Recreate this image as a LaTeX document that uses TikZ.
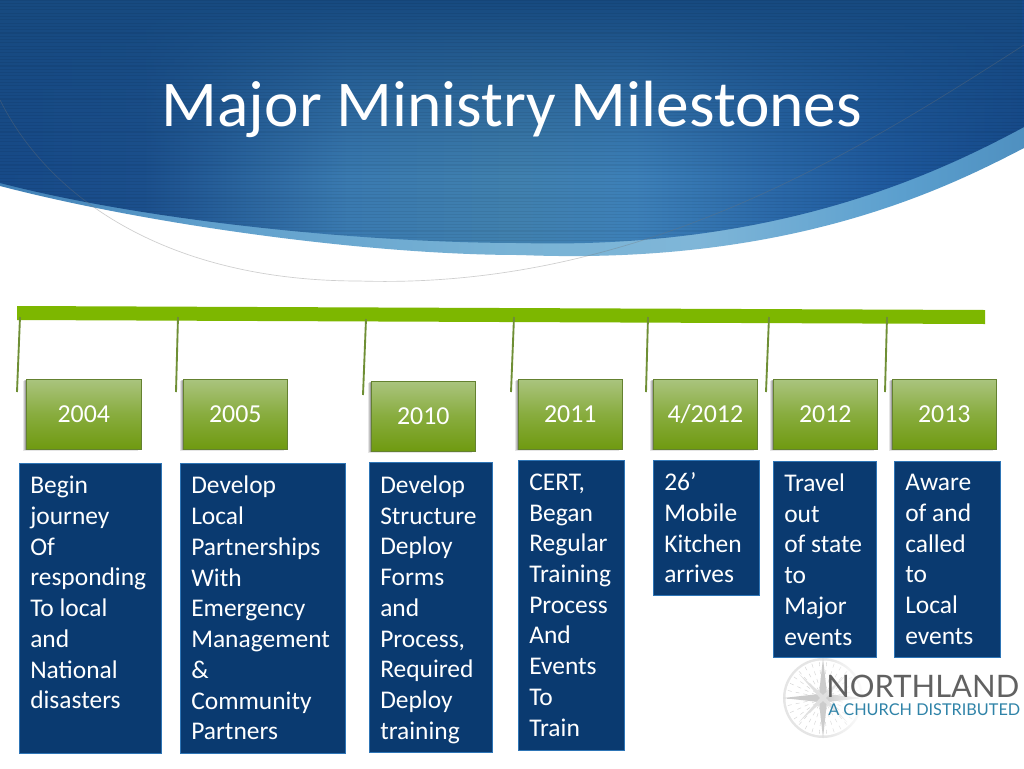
\documentclass[tikz,border=0pt]{standalone}
\usepackage{fontspec}
\setmainfont{Carlito}
\newfontfamily\logofont{Lato}
\usetikzlibrary{fadings,shadows}
\definecolor{boxblue}{HTML}{0A3A70}
\definecolor{boxedge}{HTML}{2E75B6}
\definecolor{barG}{HTML}{7DB700}
\definecolor{tickG}{HTML}{6F8F35}
\definecolor{topdark}{HTML}{174A80}
\definecolor{logoblue}{HTML}{2F83A8}
\definecolor{ma}{HTML}{174A88}\definecolor{mb}{HTML}{1B4F8C}\definecolor{mc}{HTML}{3A7AB0}
\definecolor{md}{HTML}{4080AE}\definecolor{me}{HTML}{3D80B8}\definecolor{mf}{HTML}{2A68A8}
\definecolor{mg}{HTML}{1F5A9E}\definecolor{mh}{HTML}{164A8C}
\definecolor{ba}{HTML}{3F7FB5}\definecolor{bb}{HTML}{5F9FCC}\definecolor{bc}{HTML}{79B3D5}
\definecolor{bd}{HTML}{7FB6D8}\definecolor{be}{HTML}{5B9FCE}\definecolor{bf}{HTML}{4F90C0}
\definecolor{ga}{HTML}{6F9A10}\definecolor{gb}{HTML}{88AC3E}\definecolor{gc}{HTML}{AAC47E}
\pgfdeclarehorizontalshading{bluemain}{100bp}{
  color(0bp)=(ma);color(25bp)=(ma);color(32bp)=(mb);color(42bp)=(mc);
  color(50bp)=(md);color(56bp)=(me);color(63bp)=(mf);
  color(68bp)=(mg);color(75bp)=(mh);color(100bp)=(mh)}
\pgfdeclarehorizontalshading{blueband}{100bp}{
  color(0bp)=(ba);color(25bp)=(ba);color(35bp)=(bb);color(50bp)=(bc);
  color(59bp)=(bd);color(69bp)=(be);color(75bp)=(bf);color(100bp)=(bf)}
\pgfdeclareverticalshading{greengrad}{100bp}{
  color(0bp)=(ga);color(25bp)=(ga);color(50bp)=(gb);color(75bp)=(gc);color(100bp)=(gc)}
\tikzset{
  bluebox/.style={draw=boxedge,line width=.8pt,fill=boxblue,inner sep=0pt,anchor=north west},
  bluetext/.style={text=white,inner sep=0pt,anchor=north west,align=left,
    font=\fontsize{19.1}{23.05}\selectfont},
  yearbox/.style={draw=tickG!90!black,line width=.5pt,shading=greengrad,inner sep=0pt,anchor=north west,
    text=white,font=\fontsize{19.4}{22}\selectfont,
    general shadow={shadow xshift=-2.6pt,shadow yshift=-1pt,fill=black,opacity=.10},
    general shadow={shadow xshift=-1.6pt,shadow yshift=-.7pt,fill=black,opacity=.14},
    general shadow={shadow xshift=-.8pt,shadow yshift=-.4pt,fill=black,opacity=.18}},
  tick/.style={draw=tickG,line width=1.4pt}
}
\def\innerEdge{(0,183) .. controls (150,222) and (370,243) .. (520,243) .. controls (780,250) and (940,172) .. (1024,127)}
\def\outerEdge{(0,186) .. controls (150,225) and (370,255) .. (520,255) .. controls (790,266) and (945,189) .. (1024,148)}
\begin{document}
\begin{tikzpicture}[x=0.75pt,y=-0.75pt]
\useasboundingbox (0,0) rectangle (1024,768);
\fill[white] (0,0) rectangle (1024,768);
% banner
\shade[shading=blueband] (0,0) -- \outerEdge -- (1024,0) -- cycle;
\begin{scope}
  \clip (0,0) -- \innerEdge -- (1024,0) -- cycle;
  \shade[shading=bluemain] (0,0) rectangle (1024,260);
  \fill[color=topdark,path fading=south] (0,0) rectangle (1024,175);
  \foreach \yy in {0,3.3,...,255}{\draw[black,opacity=.06,line width=.8pt] (0,\yy) -- (1024,\yy);}
\end{scope}
% thin swoosh
\draw[black!55,opacity=.35,line width=.5pt] (0,100) .. controls (50,200) and (170,281) .. (359,281) .. controls (640,290) and (860,150) .. (1024,45);
\node[text=white,inner sep=0pt,font=\fontsize{49}{56}\selectfont] (title) at (512,109) {Major Ministry Milestones};
% timeline bar
\coordinate (barA) at (17,306);
\coordinate (barB) at (985,310);
\coordinate (barC) at (985,324);
\coordinate (barD) at (17,320);
\fill[barG] (barA) -- (barB) -- (barC) -- (barD) -- cycle;
% ticks
\foreach \nm/\xa/\ya/\xb/\yb in {a/20/317/17/392,b/178/317/176/392,c/366/319/363/395,d/514/317/511/392,e/648/317/646/392,f/769/317/766/392,g/887/317/885/392}{
  \coordinate (ts\nm) at (\xa,\ya);
  \coordinate (te\nm) at (\xb,\yb);
  \draw[tick] (ts\nm) -- (te\nm);
}
% logo
\begin{scope}[shift={(823,698)}]
  \fill[black!10] (0,0) circle (40);
  \fill[white] (0,0) circle (37.5);
  \foreach \a in {0,12,...,348}{\draw[black!18,line width=.3pt,dashed] (0,0) -- (\a:38);}
  \fill[black!20] (-40,0) -- (-4,-4) -- (0,-40) -- (4,-4) -- (40,0) -- (4,4) -- (0,40) -- (-4,4) -- cycle;
  \fill[black!12] (-24,-24) -- (-3,0) -- (-24,24) -- (0,3) -- (24,24) -- (3,0) -- (24,-24) -- (0,-3) -- cycle;
  \fill[white,path fading=west] (2,-42) rectangle (44,42);
\end{scope}
\node[inner sep=0pt,anchor=base west,text=black!62,font=\logofont\fontsize{23.2}{24}\selectfont] (logoA) at (826,697) {NORTHLAND};
\node[inner sep=0pt,anchor=base west,text=logoblue,font=\logofont\fontsize{12.2}{13}\selectfont] (logoB) at (828,715) {A CHURCH DISTRIBUTED};
% year boxes
\node[yearbox,minimum width=86.2pt,minimum height=52.5pt] (y1) at (26,379) {2004};
\node[yearbox,minimum width=78pt,minimum height=52.5pt] (y2) at (183,379) {2005};
\node[yearbox,minimum width=78pt,minimum height=52.5pt] (y3) at (371,381) {2010};
\node[yearbox,minimum width=78pt,minimum height=52.5pt] (y4) at (518,379) {2011};
\node[yearbox,minimum width=78pt,minimum height=52.5pt] (y5) at (653,379) {4/2012};
\node[yearbox,minimum width=78pt,minimum height=52.5pt] (y6) at (773,379) {2012};
\node[yearbox,minimum width=78pt,minimum height=52.5pt] (y7) at (892,379) {2013};
% blue boxes
\node[bluebox,minimum width=106.5pt,minimum height=217.5pt] (b1) at (19,463) {};
\node[bluebox,minimum width=123.7pt,minimum height=217.5pt] (b2) at (180,463) {};
\node[bluebox,minimum width=92.2pt,minimum height=217.5pt] (b3) at (369,462) {};
\node[bluebox,minimum width=79.5pt,minimum height=217.5pt] (b4) at (518,460) {};
\node[bluebox,minimum width=79.5pt,minimum height=101.2pt] (b5) at (653,460) {};
\node[bluebox,minimum width=77.2pt,minimum height=147pt] (b6) at (773,461) {};
\node[bluebox,minimum width=79.5pt,minimum height=147pt] (b7) at (894,461) {};
\node[bluetext] (t1) at (30,476) {Begin\\journey\\Of\\responding\\To local\\and\\National\\disasters};
\node[bluetext] (t2) at (191,476) {Develop\\Local\\Partnerships\\With\\Emergency\\Management\\\&\\Community\\Partners};
\node[bluetext] (t3) at (380,475.5) {Develop\\Structure\\Deploy\\Forms\\and\\Process,\\Required\\Deploy\\training};
\node[bluetext] (t4) at (529,473.5) {CERT,\\Began\\Regular\\Training\\Process\\And\\Events\\To\\Train};
\node[bluetext] (t5) at (664,472.5) {26’\\Mobile\\Kitchen\\arrives};
\node[bluetext] (t6) at (784,473.5) {Travel\\out\\of state\\to\\Major\\events};
\node[bluetext] (t7) at (905,474) {Aware\\of and\\called\\to\\Local\\events};
\end{tikzpicture}
\end{document}
